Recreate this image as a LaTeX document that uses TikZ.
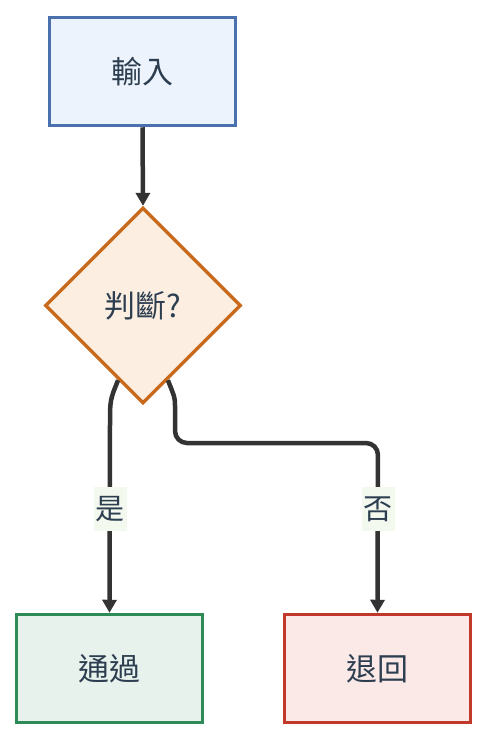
\documentclass[tikz,border=0pt]{standalone}
\usepackage{fontspec}
\newfontfamily\cjk{Noto Sans CJK TC}
\usetikzlibrary{shapes.geometric,arrows.meta,calc}
\definecolor{txt}{HTML}{2C3E50}
\definecolor{edge}{HTML}{333333}
\definecolor{inB}{HTML}{4A70AD}\definecolor{inF}{HTML}{ECF3FC}
\definecolor{dmB}{HTML}{C8691C}\definecolor{dmF}{HTML}{FCEFE2}
\definecolor{okB}{HTML}{2E8B57}\definecolor{okF}{HTML}{E8F2EC}
\definecolor{noB}{HTML}{C0392B}\definecolor{noF}{HTML}{FBE9E7}
\definecolor{lblF}{HTML}{F3F9EE}
\tikzset{
  box/.style={draw, line width=3.5pt, minimum width=186pt, minimum height=108pt, inner sep=0pt, font=\cjk\fontsize{31}{36}\selectfont, text=txt},
  dia/.style={draw=dmB, fill=dmF, line width=3.3pt, shape=diamond, minimum width=196pt, minimum height=196pt, inner sep=0pt, font=\cjk\fontsize{31}{36}\selectfont, text=txt},
  conn/.style={draw=edge, line width=4.5pt, -{Triangle[length=13pt,width=14pt]}},
  lbl/.style={fill=lblF, inner xsep=2pt, inner ysep=9pt, font=\cjk\fontsize{29}{34}\selectfont, text=txt},
}
\begin{document}
\begin{tikzpicture}[x=1pt,y=-1pt]
\useasboundingbox (0,0) rectangle (488,742);
\node[box, draw=inB, fill=inF] (in) at (142.5,71.5) {輸入};
\node[dia] (d) at (143,305.5) {判斷?};
\node[box, draw=okB, fill=okF] (ok) at (109.5,668.5) {通過};
\node[box, draw=noB, fill=noF] (no) at (377.5,668.5) {退回};
\draw[conn] (in.south) -- (d.north);
\coordinate (ys) at ($(d.west)!0.75!(d.south)$);
\coordinate (ns) at ($(d.east)!0.75!(d.south)$);
\draw[conn] (ys) .. controls (110,400) .. (110,425) -- (ok.north);
\draw[conn, rounded corners=12pt] (ns) .. controls (175,398) .. (175,418) -- (175,443) -- (378,443) -- (no.north);
\node[lbl] (ly) at (110,509) {是};
\node[lbl] (ln) at (378,509) {否};
\end{tikzpicture}
\end{document}
